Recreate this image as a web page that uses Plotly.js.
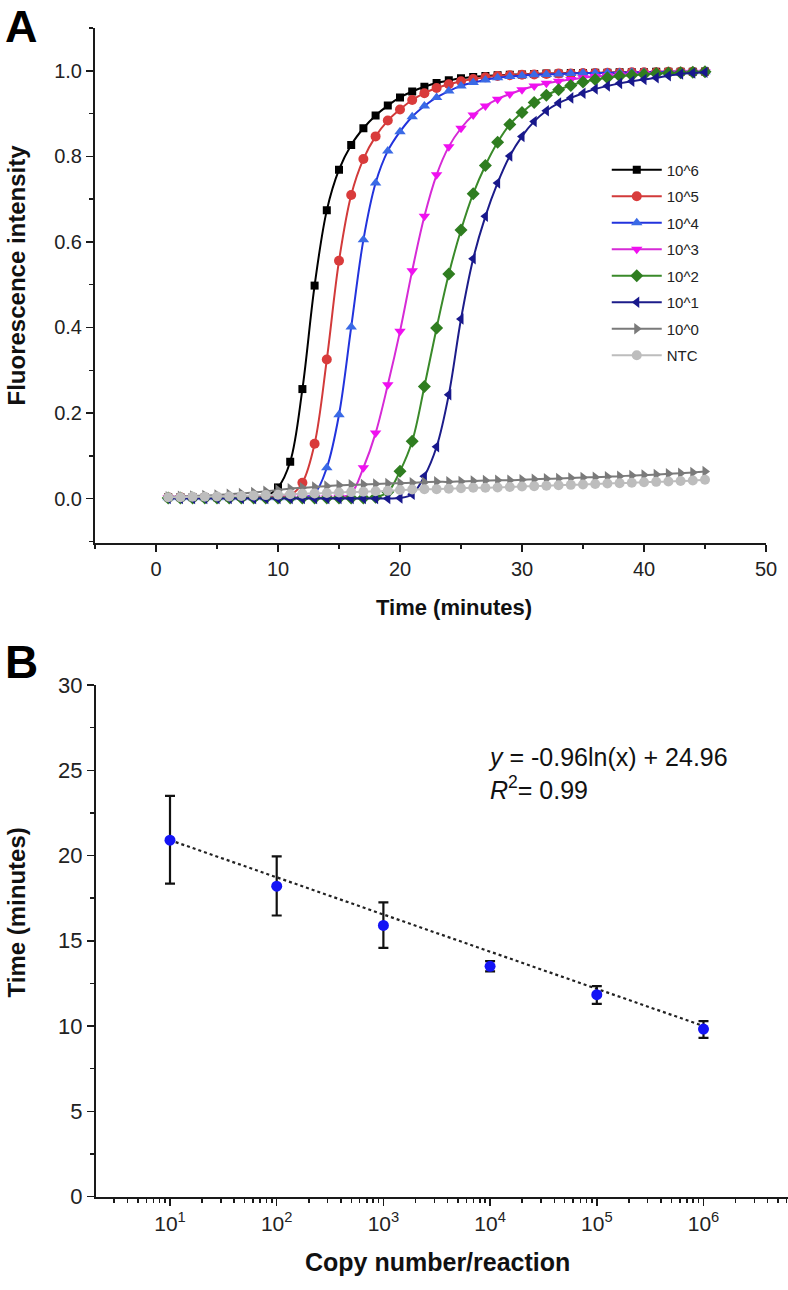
<!DOCTYPE html>
<html><head><meta charset="utf-8">
<script src="https://cdn.plot.ly/plotly-3.0.1.min.js"></script>
<style>html,body{margin:0;padding:0;background:#fff}#chart{width:788px;height:1290px}</style>
</head><body><div id="chart"></div>
<script>
// ---------- Panel A: amplification curves ----------
const minutes = [1,2,3,4,5,6,7,8,9,10,11,12,13,14,15,16,17,18,19,20,21,22,23,24,25,26,27,28,29,30,31,32,33,34,35,36,37,38,39,40,41,42,43,44,45];
const seriesNames = ["10^6","10^5","10^4","10^3","10^2","10^1","10^0","NTC"];
const copies1e6 = [0.003,0.003,0.003,0.003,0.003,0.003,0.004,0.004,0.006,0.026,0.086,0.256,0.498,0.674,0.769,0.827,0.866,0.896,0.919,0.938,0.952,0.963,0.972,0.978,0.983,0.986,0.988,0.990,0.991,0.992,0.993,0.994,0.994,0.995,0.995,0.996,0.996,0.997,0.997,0.997,0.998,0.998,0.998,0.998,0.999];
const copies1e5 = [0.003,0.003,0.003,0.003,0.003,0.003,0.003,0.003,0.003,0.004,0.008,0.037,0.128,0.325,0.556,0.710,0.794,0.847,0.884,0.910,0.932,0.948,0.960,0.969,0.976,0.981,0.985,0.988,0.990,0.991,0.992,0.993,0.994,0.994,0.995,0.995,0.996,0.996,0.997,0.997,0.997,0.998,0.998,0.998,0.998];
const copies1e4 = [0.002,0.002,0.002,0.002,0.002,0.002,0.002,0.002,0.002,0.002,0.002,0.003,0.012,0.072,0.196,0.401,0.605,0.738,0.813,0.858,0.893,0.918,0.938,0.953,0.965,0.973,0.979,0.984,0.987,0.989,0.991,0.992,0.993,0.994,0.995,0.995,0.996,0.996,0.997,0.997,0.997,0.998,0.998,0.998,0.998];
const copies1e3 = [0.002,0.002,0.002,0.002,0.002,0.002,0.002,0.002,0.002,0.002,0.002,0.002,0.002,0.002,0.003,0.012,0.072,0.153,0.266,0.391,0.533,0.660,0.757,0.823,0.866,0.897,0.918,0.934,0.946,0.956,0.965,0.971,0.976,0.980,0.984,0.987,0.989,0.991,0.993,0.994,0.995,0.996,0.997,0.997,0.998];
const copies1e2 = [0.001,0.001,0.001,0.001,0.001,0.001,0.001,0.001,0.001,0.001,0.001,0.001,0.001,0.001,0.001,0.001,0.001,0.003,0.015,0.064,0.134,0.262,0.399,0.525,0.628,0.713,0.779,0.833,0.875,0.903,0.926,0.943,0.956,0.966,0.974,0.980,0.984,0.988,0.990,0.992,0.994,0.995,0.996,0.997,0.998];
const copies1e1 = [0.000,0.000,0.000,0.000,0.000,0.000,0.000,0.000,0.000,0.000,0.000,0.000,0.000,0.000,0.000,0.000,0.000,0.000,0.000,0.001,0.010,0.052,0.121,0.243,0.420,0.561,0.660,0.738,0.801,0.847,0.882,0.907,0.925,0.937,0.948,0.958,0.965,0.971,0.976,0.980,0.984,0.989,0.993,0.995,0.997];
const copies1e0 = [0.004,0.005,0.006,0.007,0.008,0.010,0.012,0.014,0.017,0.020,0.023,0.025,0.027,0.029,0.031,0.032,0.033,0.034,0.035,0.036,0.037,0.038,0.039,0.039,0.040,0.041,0.042,0.043,0.043,0.044,0.045,0.046,0.047,0.048,0.049,0.050,0.051,0.052,0.054,0.055,0.056,0.058,0.059,0.061,0.063];
const ntc = [0.003,0.003,0.004,0.004,0.005,0.005,0.006,0.007,0.008,0.009,0.010,0.011,0.012,0.013,0.014,0.015,0.016,0.017,0.018,0.020,0.021,0.022,0.022,0.023,0.024,0.025,0.025,0.026,0.027,0.028,0.029,0.030,0.031,0.032,0.033,0.034,0.035,0.036,0.037,0.038,0.039,0.040,0.041,0.042,0.044];
const xTicksA = [0,10,20,30,40,50];
const yTicksA = [0.0,0.2,0.4,0.6,0.8,1.0];

// ---------- Panel B: standard curve ----------
const copyNumber = [10,100,1000,10000,100000,1000000];
const timeMean = [20.9,18.2,15.9,13.5,11.84,9.82];
const errPlus = [2.6,1.75,1.35,0.3,0.5,0.47];
const errMinus = [2.55,1.72,1.32,0.3,0.54,0.52];
const fitX = [10,1000000];
const fitY = [20.9,10.0];
const xTicksB = [10,100,1000,10000,100000,1000000];
const xTickTextB = ["10<sup>1</sup>","10<sup>2</sup>","10<sup>3</sup>","10<sup>4</sup>","10<sup>5</sup>","10<sup>6</sup>"];
const yTicksB = [0,5,10,15,20,25,30];
const equationText = "<i>y</i> = -0.96ln(x) + 24.96<br><i>R</i><sup>2</sup>= 0.99";

const F = "Liberation Sans, Arial, Helvetica, sans-serif";
const seriesY = [copies1e6,copies1e5,copies1e4,copies1e3,copies1e2,copies1e1,copies1e0,ntc];
const lineColors = ["#000000","#d23a3a","#2233dd","#d62ad6","#3a8a2a","#1c1c8a","#7a7a7a","#bdbdbd"];
const markColors = ["#000000","#d93b3b","#3a6ae6","#f010f0","#2f7d20","#18188c","#7a7a7a","#bdbdbd"];
const symbols = ["square","circle","triangle-up","triangle-down","diamond","triangle-left","triangle-right","circle"];
const sizes = [8,10,10,10,10,10,10,10];

const traces = seriesNames.map((n,i)=>({
  type:"scatter", mode:"lines+markers", name:n, x:minutes, y:seriesY[i],
  xaxis:"x", yaxis:"y", legendgroup:"g"+i,
  line:{color:lineColors[i], width:2, shape:"spline", smoothing:1},
  marker:{symbol:symbols[i], size:sizes[i], color:markColors[i], line:{width:0}}
}));

traces.push({
  type:"scatter", mode:"lines", x:fitX, y:fitY, xaxis:"x2", yaxis:"y2", showlegend:false,
  line:{color:"#222", width:2.2, dash:"dot"}
});
traces.push({
  type:"scatter", mode:"markers", x:copyNumber, y:timeMean, xaxis:"x2", yaxis:"y2", showlegend:false,
  marker:{symbol:"circle", size:11, color:"#1414f5"},
  error_y:{type:"data", symmetric:false, array:errPlus, arrayminus:errMinus, color:"#111", thickness:2.2, width:5}
});

const axCommon = {showgrid:false, zeroline:false, showline:true, linecolor:"#1a1a1a", linewidth:2,
  ticks:"outside", ticklen:7, tickwidth:1.5, tickcolor:"#1a1a1a", tickfont:{family:F, size:20, color:"#222"}};

const layout = {
  width:788, height:1290, margin:{l:0,r:0,t:0,b:0},
  paper_bgcolor:"#fff", plot_bgcolor:"#fff", font:{family:F, color:"#222"},
  xaxis:Object.assign({}, axCommon, {domain:[0.12056,0.97208], anchor:"y", range:[-5,50],
    tickvals:xTicksA, minor:{ticks:"outside", ticklen:4, tickwidth:1.5, dtick:5, tick0:0, tickcolor:"#1a1a1a"}}),
  yaxis:Object.assign({}, axCommon, {domain:[0.57907,0.97814], anchor:"x", range:[-0.104,1.1],
    tickvals:yTicksA, tickformat:".1f", minor:{ticks:"outside", ticklen:4, tickwidth:1.5, dtick:0.1, tick0:0, tickcolor:"#1a1a1a"}}),
  xaxis2:Object.assign({}, axCommon, {domain:[0.12183,1], anchor:"y2", type:"log", range:[0.3065,6.792],
    tickvals:xTicksB, ticktext:xTickTextB, tickfont:{family:F, size:21, color:"#222"},
    minor:{ticks:"outside", ticklen:4, tickwidth:1.5, dtick:"D1", tickcolor:"#1a1a1a"}}),
  yaxis2:Object.assign({}, axCommon, {domain:[0.07248,0.46899], anchor:"x2", range:[0,30],
    tickvals:yTicksB, tickfont:{family:F, size:22, color:"#222"},
    minor:{ticks:"outside", ticklen:4, tickwidth:1.5, dtick:2.5, tick0:0, tickcolor:"#1a1a1a"}}),
  showlegend:true,
  legend:{x:0.770, y:0.881, xanchor:"left", yanchor:"top", bgcolor:"rgba(0,0,0,0)",
    font:{family:F, size:15, color:"#222"}, itemwidth:50, tracegroupgap:4},
  annotations:[
    {text:"<b>A</b>", xref:"paper", yref:"paper", x:0.0273, y:1, xanchor:"center", yanchor:"top", borderpad:0, showarrow:false, font:{family:F, size:45, color:"#000"}},
    {text:"<b>B</b>", xref:"paper", yref:"paper", x:0.0273, y:0.4872, xanchor:"center", yanchor:"middle", showarrow:false, font:{family:F, size:46, color:"#000"}},
    {text:"<b>Fluorescence intensity</b>", xref:"paper", yref:"paper", x:0.0209, y:0.7868, textangle:-90, xanchor:"center", yanchor:"middle", showarrow:false, font:{family:F, size:24, color:"#111"}},
    {text:"<b>Time (minutes)</b>", xref:"paper", yref:"paper", x:0.5761, y:0.5287, xanchor:"center", yanchor:"middle", showarrow:false, font:{family:F, size:22, color:"#111"}},
    {text:"<b>Time (minutes)</b>", xref:"paper", yref:"paper", x:0.0209, y:0.2930, textangle:-90, xanchor:"center", yanchor:"middle", showarrow:false, font:{family:F, size:24, color:"#111"}},
    {text:"<b>Copy number/reaction</b>", xref:"paper", yref:"paper", x:0.5546, y:0.0217, xanchor:"center", yanchor:"middle", showarrow:false, font:{family:F, size:25, color:"#111"}},
    {text:equationText, xref:"paper", yref:"paper", x:0.6168, y:0.4004, xanchor:"left", yanchor:"middle", align:"left", showarrow:false, font:{family:F, size:25, color:"#111"}}
  ]
};

Plotly.newPlot("chart", traces, layout, {staticPlot:true, displayModeBar:false});
</script>
</body></html>
